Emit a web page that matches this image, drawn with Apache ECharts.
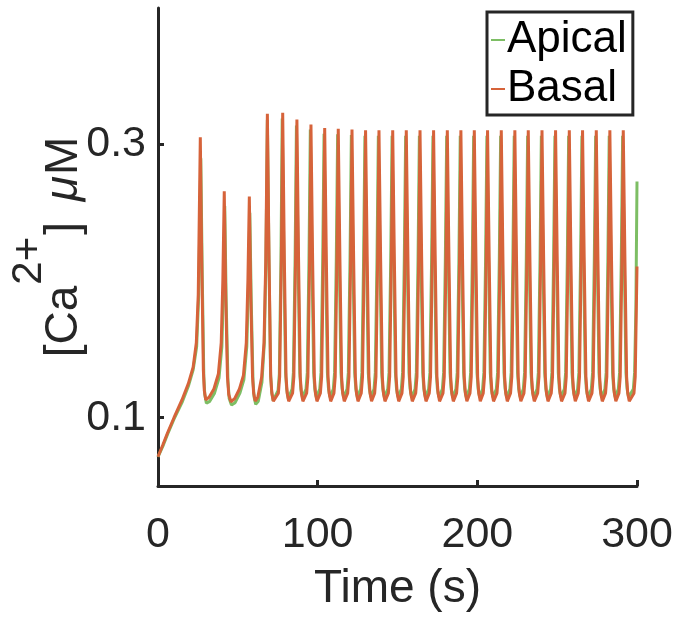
<!DOCTYPE html>
<html>
<head>
<meta charset="utf-8">
<script src="https://cdn.jsdelivr.net/npm/echarts@6/dist/echarts.min.js"></script>
<style>
html,body{margin:0;padding:0;background:#fff;}
#chart{width:680px;height:625px;}
</style>
</head>
<body>
<div id="chart"></div>
<script>
// ---- Data (time in s, [Ca2+] in uM) ----
var seriesNames = ['Apical', 'Basal'];
var xTicks = [0, 100, 200, 300];
var yTicks = [0.1, 0.3];

var apicalCa = [
  [0,0.0714],[3,0.079],[6,0.088],[10,0.099],[15,0.111],[19,0.123],[22,0.135],[24.2,0.152],[25.5,0.19],[26.8,0.29],
  [27.7,0.205],[28.7,0.13],[29.3,0.117],[30.3,0.1106],[32.4,0.112],[35.4,0.118],[38.2,0.129],[40.0,0.152],[41.0,0.195],[41.8,0.255],
  [42.7,0.185],[43.8,0.127],[44.6,0.114],[46.0,0.1093],[48.3,0.111],[51.3,0.118],[53.8,0.128],[55.6,0.152],[56.6,0.195],[57.5,0.25],
  [58.4,0.185],[59.5,0.127],[60.2,0.115],[61.2,0.1098],[62.8,0.112],[65.1,0.126],[66.6,0.155],[67.6,0.215],[68.5,0.318],
  [69.5,0.215],[70.5,0.132],[71.2,0.119],[72.1,0.1125],[75.2,0.12],[76.0,0.132],[77.0,0.215],[77.8,0.319],
  [78.85,0.215],[79.9,0.133],[80.6,0.121],[81.55,0.114],[84.0,0.121],[84.8,0.133],[85.85,0.215],[86.7,0.314],
  [87.75,0.215],[88.8,0.133],[89.5,0.121],[90.45,0.115],[92.7,0.121],[93.5,0.133],[94.55,0.215],[95.4,0.311],
  [96.45,0.215],[97.5,0.133],[98.2,0.121],[99.15,0.115],[101.3,0.121],[102.1,0.133],[103.15,0.215],[104.0,0.308],
  [105.05,0.215],[106.1,0.133],[106.8,0.121],[107.75,0.115],[109.8,0.121],[110.6,0.133],[111.65,0.215],[112.5,0.3075],
  [113.55,0.215],[114.6,0.133],[115.3,0.121],[116.25,0.115],[118.4,0.121],[119.2,0.133],[120.25,0.215],[121.1,0.307],
  [122.15,0.215],[123.2,0.133],[123.9,0.121],[124.85,0.115],[126.9,0.121],[127.7,0.133],[128.75,0.215],[129.6,0.3065],
  [130.65,0.215],[131.7,0.133],[132.4,0.121],[133.35,0.115],[135.3,0.121],[136.1,0.133],[137.15,0.215],[138.0,0.3065],
  [139.05,0.215],[140.1,0.133],[140.8,0.121],[141.75,0.115],[143.9,0.121],[144.7,0.133],[145.75,0.215],[146.6,0.3065],
  [147.65,0.215],[148.7,0.133],[149.4,0.121],[150.35,0.115],[152.4,0.121],[153.2,0.133],[154.25,0.215],[155.1,0.3065],
  [156.15,0.215],[157.2,0.133],[157.9,0.121],[158.85,0.115],[161.0,0.121],[161.8,0.133],[162.85,0.215],[163.7,0.3065],
  [164.75,0.215],[165.8,0.133],[166.5,0.121],[167.45,0.115],[169.5,0.121],[170.3,0.133],[171.35,0.215],[172.2,0.3065],
  [173.25,0.215],[174.3,0.133],[175.0,0.121],[175.95,0.115],[178.1,0.121],[178.9,0.133],[179.95,0.215],[180.8,0.3065],
  [181.85,0.215],[182.9,0.133],[183.6,0.121],[184.55,0.115],[186.6,0.121],[187.4,0.133],[188.45,0.215],[189.3,0.3065],
  [190.35,0.215],[191.4,0.133],[192.1,0.121],[193.05,0.115],[195.0,0.121],[195.8,0.133],[196.85,0.215],[197.7,0.3065],
  [198.75,0.215],[199.8,0.133],[200.5,0.121],[201.45,0.115],[203.3,0.121],[204.1,0.133],[205.15,0.215],[206.0,0.3065],
  [207.05,0.215],[208.1,0.133],[208.8,0.121],[209.75,0.115],[211.9,0.121],[212.7,0.133],[213.75,0.215],[214.6,0.3065],
  [215.65,0.215],[216.7,0.133],[217.4,0.121],[218.35,0.115],[220.4,0.121],[221.2,0.133],[222.25,0.215],[223.1,0.3065],
  [224.15,0.215],[225.2,0.133],[225.9,0.121],[226.85,0.115],[228.8,0.121],[229.6,0.133],[230.65,0.215],[231.5,0.3065],
  [232.55,0.215],[233.6,0.133],[234.3,0.121],[235.25,0.115],[237.4,0.121],[238.2,0.133],[239.25,0.215],[240.1,0.3065],
  [241.15,0.215],[242.2,0.133],[242.9,0.121],[243.85,0.115],[245.9,0.121],[246.7,0.133],[247.75,0.215],[248.6,0.3065],
  [249.65,0.215],[250.7,0.133],[251.4,0.121],[252.35,0.115],[254.5,0.121],[255.3,0.133],[256.35,0.215],[257.2,0.3065],
  [258.25,0.215],[259.3,0.133],[260.0,0.121],[260.95,0.115],[262.8,0.121],[263.6,0.133],[264.65,0.215],[265.5,0.3065],
  [266.55,0.215],[267.6,0.133],[268.3,0.121],[269.25,0.115],[271.4,0.121],[272.2,0.133],[273.25,0.215],[274.1,0.3065],
  [275.15,0.215],[276.2,0.133],[276.9,0.121],[277.85,0.115],[279.9,0.121],[280.7,0.133],[281.75,0.215],[282.6,0.3065],
  [283.65,0.215],[284.7,0.133],[285.4,0.121],[286.35,0.115],[288.3,0.121],[289.1,0.133],[290.15,0.215],[291.0,0.3065],
  [292.05,0.215],[293.1,0.133],[293.8,0.121],[294.75,0.115],[297.7,0.121],[298.5,0.133],[299.3,0.18],[300,0.273]
];

var basalCa = [
  [0,0.0714],[3,0.080],[6,0.089],[10,0.100],[15,0.113],[19,0.125],[22,0.137],[24,0.155],[25.2,0.19],[26.5,0.3054],
  [27.4,0.215],[28.4,0.135],[29.0,0.120],[29.9,0.1132],[32,0.115],[35,0.121],[37.8,0.132],[39.6,0.155],[40.6,0.20],[41.5,0.2658],
  [42.4,0.19],[43.5,0.13],[44.3,0.117],[45.7,0.1117],[48,0.114],[51,0.121],[53.5,0.131],[55.3,0.155],[56.3,0.20],[57.2,0.262],
  [58.1,0.19],[59.2,0.13],[59.9,0.118],[60.9,0.1122],[62.5,0.115],[64.9,0.1296],[66.4,0.155],[67.5,0.215],[68.5,0.3225],
  [69.55,0.215],[70.6,0.13],[71.3,0.118],[72.25,0.112],[75.4,0.118],[76.2,0.13],[77.25,0.215],[78.1,0.3232],
  [79.15,0.215],[80.2,0.13],[80.9,0.118],[81.85,0.112],[84.3,0.118],[85.1,0.13],[86.15,0.215],[87.0,0.3183],
  [88.05,0.215],[89.1,0.13],[89.8,0.118],[90.75,0.112],[93.1,0.118],[93.9,0.13],[94.95,0.215],[95.8,0.3147],
  [96.85,0.215],[97.9,0.13],[98.6,0.118],[99.55,0.112],[101.7,0.118],[102.5,0.13],[103.55,0.215],[104.4,0.3122],
  [105.45,0.215],[106.5,0.13],[107.2,0.118],[108.15,0.112],[110.2,0.118],[111.0,0.13],[112.05,0.215],[112.9,0.3115],
  [113.95,0.215],[115.0,0.13],[115.7,0.118],[116.65,0.112],[118.8,0.118],[119.6,0.13],[120.65,0.215],[121.5,0.311],
  [122.55,0.215],[123.6,0.13],[124.3,0.118],[125.25,0.112],[127.3,0.118],[128.1,0.13],[129.15,0.215],[130.0,0.3105],
  [131.05,0.215],[132.1,0.13],[132.8,0.118],[133.75,0.112],[135.7,0.118],[136.5,0.13],[137.55,0.215],[138.4,0.3105],
  [139.45,0.215],[140.5,0.13],[141.2,0.118],[142.15,0.112],[144.3,0.118],[145.1,0.13],[146.15,0.215],[147.0,0.3105],
  [148.05,0.215],[149.1,0.13],[149.8,0.118],[150.75,0.112],[152.8,0.118],[153.6,0.13],[154.65,0.215],[155.5,0.3105],
  [156.55,0.215],[157.6,0.13],[158.3,0.118],[159.25,0.112],[161.4,0.118],[162.2,0.13],[163.25,0.215],[164.1,0.3105],
  [165.15,0.215],[166.2,0.13],[166.9,0.118],[167.85,0.112],[169.9,0.118],[170.7,0.13],[171.75,0.215],[172.6,0.3105],
  [173.65,0.215],[174.7,0.13],[175.4,0.118],[176.35,0.112],[178.5,0.118],[179.3,0.13],[180.35,0.215],[181.2,0.3105],
  [182.25,0.215],[183.3,0.13],[184.0,0.118],[184.95,0.112],[187.0,0.118],[187.8,0.13],[188.85,0.215],[189.7,0.3105],
  [190.75,0.215],[191.8,0.13],[192.5,0.118],[193.45,0.112],[195.4,0.118],[196.2,0.13],[197.25,0.215],[198.1,0.3105],
  [199.15,0.215],[200.2,0.13],[200.9,0.118],[201.85,0.112],[203.7,0.118],[204.5,0.13],[205.55,0.215],[206.4,0.3105],
  [207.45,0.215],[208.5,0.13],[209.2,0.118],[210.15,0.112],[212.3,0.118],[213.1,0.13],[214.15,0.215],[215.0,0.3105],
  [216.05,0.215],[217.1,0.13],[217.8,0.118],[218.75,0.112],[220.8,0.118],[221.6,0.13],[222.65,0.215],[223.5,0.3105],
  [224.55,0.215],[225.6,0.13],[226.3,0.118],[227.25,0.112],[229.2,0.118],[230.0,0.13],[231.05,0.215],[231.9,0.3105],
  [232.95,0.215],[234.0,0.13],[234.7,0.118],[235.65,0.112],[237.8,0.118],[238.6,0.13],[239.65,0.215],[240.5,0.3105],
  [241.55,0.215],[242.6,0.13],[243.3,0.118],[244.25,0.112],[246.3,0.118],[247.1,0.13],[248.15,0.215],[249.0,0.3105],
  [250.05,0.215],[251.1,0.13],[251.8,0.118],[252.75,0.112],[254.9,0.118],[255.7,0.13],[256.75,0.215],[257.6,0.3105],
  [258.65,0.215],[259.7,0.13],[260.4,0.118],[261.35,0.112],[263.2,0.118],[264.0,0.13],[265.05,0.215],[265.9,0.3105],
  [266.95,0.215],[268.0,0.13],[268.7,0.118],[269.65,0.112],[271.8,0.118],[272.6,0.13],[273.65,0.215],[274.5,0.3105],
  [275.55,0.215],[276.6,0.13],[277.3,0.118],[278.25,0.112],[280.3,0.118],[281.1,0.13],[282.15,0.215],[283.0,0.3105],
  [284.05,0.215],[285.1,0.13],[285.8,0.118],[286.75,0.112],[288.7,0.118],[289.5,0.13],[290.55,0.215],[291.4,0.3105],
  [292.45,0.215],[293.5,0.13],[294.2,0.118],[295.15,0.112],[298.1,0.118],[298.9,0.13],[300,0.2107]
];

var colors = ['#7DBE64', '#D6633A'];
var FONT = "'Liberation Sans', Arial, Helvetica, sans-serif";
var INK = '#262626';

var chart = echarts.init(document.getElementById('chart'), null, {renderer: 'canvas'});
chart.setOption({
  animation: false,
  backgroundColor: '#ffffff',
  textStyle: {fontFamily: FONT},
  grid: {left: 158, right: 43, top: 8, bottom: 139, containLabel: false, outerBoundsMode: 'none'},
  legend: {
    orient: 'vertical',
    left: 487, top: 12,
    data: seriesNames,
    icon: 'rect',
    itemWidth: 14, itemHeight: 2,
    itemGap: 5,
    padding: [6, 6, 4, 4],
    borderColor: INK, borderWidth: 3,
    backgroundColor: '#ffffff',
    textStyle: {fontSize: 44, color: '#000', fontFamily: FONT, padding: [0,0,0,-3]}
  },
  xAxis: {
    type: 'value', min: 0, max: 300, interval: 100,
    name: 'Time (s)', nameLocation: 'middle', nameGap: 80, nameMoveOverlap: false,
    nameTextStyle: {fontSize: 46, color: INK, fontFamily: FONT},
    axisLine: {lineStyle: {color: INK, width: 3}},
    axisTick: {inside: true, length: 6, lineStyle: {color: INK, width: 3}},
    axisLabel: {fontSize: 43, color: INK, margin: 28, fontFamily: FONT,
      customValues: xTicks},
    splitLine: {show: false}
  },
  yAxis: {
    type: 'value', min: 0.05, max: 0.4,
    name: '[Ca{sup|2+}] {mu|μ}M', nameLocation: 'middle', nameGap: 38, nameRotate: 90,
    nameMoveOverlap: false,
    nameTextStyle: {fontSize: 46, color: INK, fontFamily: FONT,
      rich: {
        sup: {fontSize: 42, color: INK, fontFamily: FONT, padding: [0, 2, 70, 1]},
        mu: {fontSize: 46, color: INK, fontStyle: 'italic', fontFamily: FONT, padding: [0, 1, 0, 8]}
      }},
    axisLine: {show: true, lineStyle: {color: INK, width: 3}},
    axisTick: {show: true, inside: true, length: 6, lineStyle: {color: INK, width: 3},
      customValues: yTicks},
    axisLabel: {fontSize: 43, color: INK, margin: 12, fontFamily: FONT,
      customValues: yTicks, formatter: function (v) { return v.toFixed(1); }},
    splitLine: {show: false}
  },
  series: [
    {name: seriesNames[0], type: 'line', data: apicalCa, showSymbol: false, symbol: 'none',
     color: colors[0], lineStyle: {width: 3, color: colors[0]}, z: 2},
    {name: seriesNames[1], type: 'line', data: basalCa, showSymbol: false, symbol: 'none',
     color: colors[1], lineStyle: {width: 3, color: colors[1]}, z: 3}
  ]
});
</script>
</body>
</html>
